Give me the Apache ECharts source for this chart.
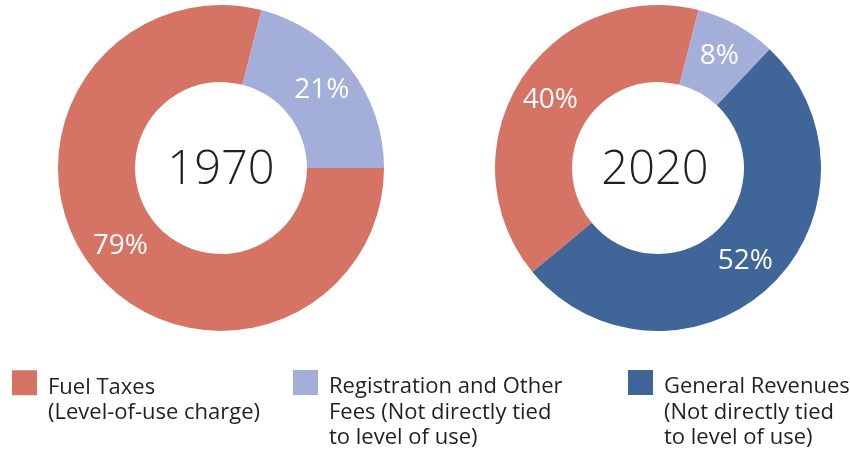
<!DOCTYPE html>
<html>
<head>
<meta charset="utf-8">
<script src="https://cdn.jsdelivr.net/npm/echarts@6/dist/echarts.min.js"></script>
<style>
  html, body { margin: 0; padding: 0; background: #fff; }
  #chart { width: 850px; height: 456px; }
</style>
</head>
<body>
<div id="chart"></div>
<script>
const categories = ['Fuel Taxes', 'Registration and Other Fees', 'General Revenues']
const legendLines = [
  ['Fuel Taxes', '(Level-of-use charge)'],
  ['Registration and Other', 'Fees (Not directly tied', 'to level of use)'],
  ['General Revenues', '(Not directly tied', 'to level of use)']
]
const years = ['1970', '2020']
const shares1970 = [79, 21]
const shares2020 = [40, 8, 52]

const colors = ['#D57365', '#A3AED9', '#3F6599']
const font = 'Open Sans'

let chart = echarts.init(document.getElementById('chart'))

function pieSeries (name, values, cx, startAngle) {
  return {
    name: name,
    type: 'pie',
    center: [cx, 168],
    radius: [86, 163],
    startAngle: startAngle,
    clockwise: true,
    silent: true,
    label: {
      show: true,
      position: 'inside',
      formatter: '{c}%',
      color: '#fff',
      fontFamily: font,
      fontSize: 28
    },
    labelLine: { show: false },
    itemStyle: { borderWidth: 0 },
    data: values.map((v, i) => ({ name: categories[i], value: v }))
  }
}

// legend text is centred on its icon, so a blank first line pushes it down
const lineH = 25.5
const iconTop = 370
let legendLeft = [12, 293, 628]
let legends = categories.map((c, i) => {
  let n = legendLines[i].length
  let gap = 9 + (n - 1) * lineH
  let boxTop = 12.5 - (n * lineH + gap) / 2
  return {
    left: legendLeft[i],
    top: iconTop + boxTop,
    padding: 0,
    icon: 'rect',
    itemWidth: 25,
    itemHeight: 25,
    selectedMode: false,
    data: [c],
    formatter: name => '{gap| }\n' + legendLines[categories.indexOf(name)].map(s => '{t|' + s + '}').join('\n'),
    textStyle: {
      padding: [0, 0, 0, 6],
      rich: {
        gap: { fontSize: gap, lineHeight: gap },
        t: { color: '#231F20', fontFamily: font, fontSize: 22, lineHeight: lineH }
      }
    }
  }
})

let option = {
  color: colors,
  animation: false,
  legend: legends,
  graphic: [
    {
      type: 'text', x: 221, y: 171,
      style: { text: years[0], fill: '#231F20', font: '300 47px "' + font + '"', textAlign: 'center', textVerticalAlign: 'middle' }
    },
    {
      type: 'text', x: 655, y: 171,
      style: { text: years[1], fill: '#231F20', font: '300 47px "' + font + '"', textAlign: 'center', textVerticalAlign: 'middle' }
    }
  ],
  series: [
    pieSeries(years[0], shares1970, 221, 0),
    pieSeries(years[1], shares2020, 658, 219.6)
  ]
}

chart.setOption(option)
</script>
</body>
</html>
